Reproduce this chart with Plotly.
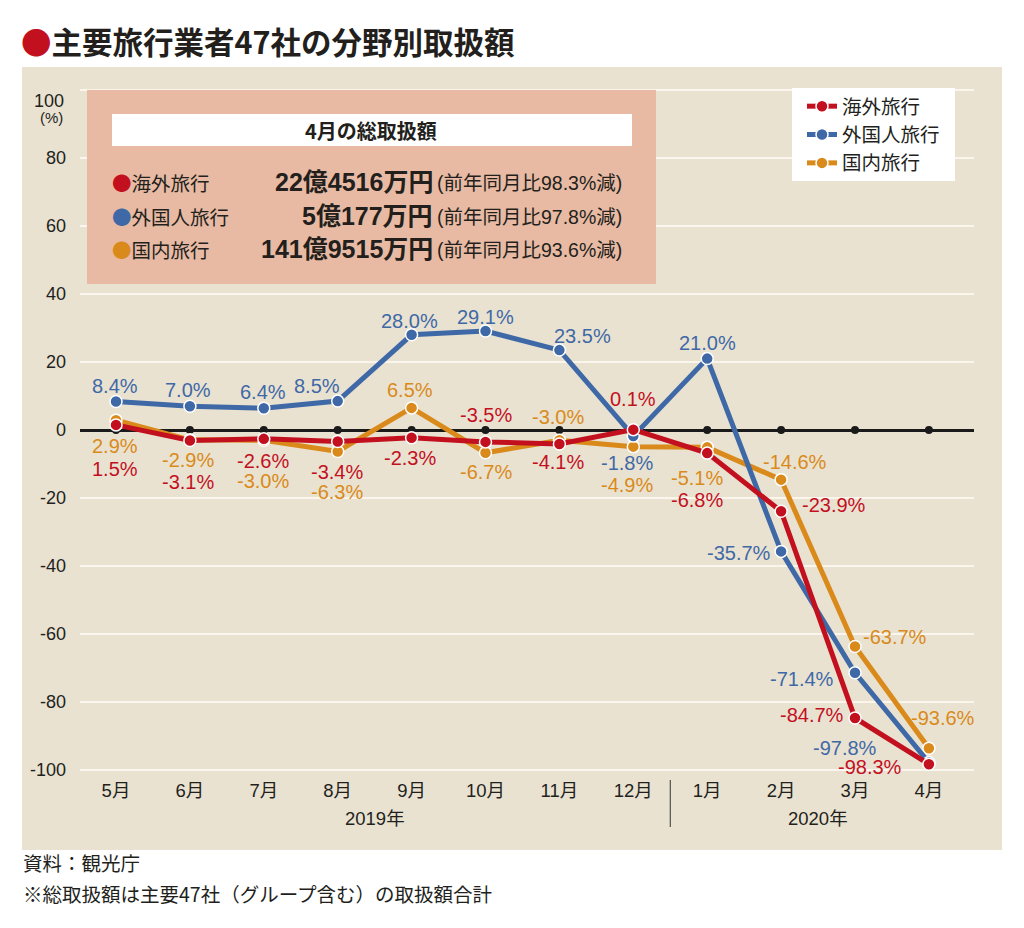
import plotly.graph_objects as go

# ---------------- data ----------------
months = ["5月", "6月", "7月", "8月", "9月", "10月", "11月", "12月", "1月", "2月", "3月", "4月"]
years = ["2019年", "2020年"]
series_names = ["海外旅行", "外国人旅行", "国内旅行"]
overseas = [1.5, -3.1, -2.6, -3.4, -2.3, -3.5, -4.1, 0.1, -6.8, -23.9, -84.7, -98.3]
inbound = [8.4, 7.0, 6.4, 8.5, 28.0, 29.1, 23.5, -1.8, 21.0, -35.7, -71.4, -97.8]
domestic = [2.9, -2.9, -3.0, -6.3, 6.5, -6.7, -3.0, -4.9, -5.1, -14.6, -63.7, -93.6]
y_ticks = [100, 80, 60, 40, 20, 0, -20, -40, -60, -80, -100]
box_title = "4月の総取扱額"
box_amounts = ["22億4516万円", "5億177万円", "141億9515万円"]
box_notes = ["(前年同月比98.3%減)", "(前年同月比97.8%減)", "(前年同月比93.6%減)"]

# ---------------- styles ----------------
RED = "#c3101f"
BLUE = "#3f69a6"
ORANGE = "#d98a1b"
BEIGE = "#e9e2d1"
SALMON = "#e8baa3"
TXT = "#231f1c"
NUM_FONT = "Liberation Sans, Noto Sans CJK JP"
JP_FONT = "Noto Sans CJK JP"

# label offsets (pixels, dx right / dy down) for each point
off_red = [(-1, 44), (-2, 41), (-1, 22), (-1, 30), (-2, 20), (0, -27), (-1, 18), (0, -31), (-10, 47), (53, -6), (-43, -3), (-59, 3)]
off_blue = [(-1, -15), (-2, -16), (-1, -16), (-21, -15), (-2, -14), (0, -14), (23, -14), (-6, 27), (0, -16), (-42, 2), (-53, 6), (-84, -15)]
off_orange = [(-1, 26), (-2, 20), (-1, 41), (-1, 41), (-2, -18), (0, 19), (-1, -23), (-6, 38), (-10, 31), (14, -18), (40, -10), (14, -30)]

# plot-area geometry (pixels)
L, R, T, B = 80, 974, 80, 775
W, H = 1024, 928
zero_px, px_per_unit = 430, 3.4
first_x, step_x = 116, 73.9


def PX(x):
    return (x - L) / (R - L)


def PY(y):
    return (B - y) / (B - T)


def note(x, y, text, size, family, color=TXT, xanchor="left"):
    return dict(x=PX(x), y=PY(y), xref="paper", yref="paper", text=text, showarrow=False,
                xanchor=xanchor, yanchor="middle", font=dict(family=family, size=size, color=color))


fig = go.Figure()

# black dots on zero line
fig.add_trace(go.Scatter(x=months, y=[0] * len(months), mode="markers",
                         marker=dict(color="#1a1a1a", size=8), showlegend=False, hoverinfo="skip"))

traces = [(series_names[2], domestic, ORANGE, 3), (series_names[1], inbound, BLUE, 2), (series_names[0], overseas, RED, 1)]
for name, vals, col, rank in traces:
    fig.add_trace(go.Scatter(
        x=months, y=vals, mode="lines+markers", name=name, legendrank=rank,
        line=dict(color=col, width=5),
        marker=dict(color=col, size=12, line=dict(color="white", width=1.5)),
    ))

# data labels
anns = []
for vals, col, offs in [(overseas, RED, off_red), (inbound, BLUE, off_blue), (domestic, ORANGE, off_orange)]:
    for m, v, (dx, dy) in zip(months, vals, offs):
        anns.append(dict(x=m, y=v, xref="x", yref="y", text=f"{v:.1f}%", showarrow=False,
                         xanchor="center", yanchor="middle",
                         xshift=dx, yshift=-dy, font=dict(family=NUM_FONT, size=20, color=col)))

# year labels
for xpos, yr in zip([3.5, 9.5], years):
    anns.append(dict(x=xpos, y=PY(818), xref="x", yref="paper", text=yr, showarrow=False,
                     xanchor="center", yanchor="middle", font=dict(family=NUM_FONT, size=18.5, color=TXT)))

# y-axis 100 label and unit
anns.append(note(66, 101, "100", 18, NUM_FONT, xanchor="right"))
anns.append(note(65, 118, "(%)", 15, NUM_FONT, xanchor="right"))

# title
anns.append(note(19, 41, f'<span style="color:{RED}">●</span><b>主要旅行業者47社の分野別取扱額</b>', 30.5, JP_FONT))

# footnotes
anns.append(note(21, 862, "資料：観光庁", 19.5, JP_FONT))
anns.append(note(21, 893, "※総取扱額は主要47社（グループ含む）の取扱額合計", 19.5, JP_FONT))

# info box text
anns.append(note(371, 130, f"<b>{box_title}</b>", 20, JP_FONT, xanchor="center"))
row_y = [182, 216, 249]
for i, (nm, amt, nt, col) in enumerate(zip(series_names, box_amounts, box_notes, [RED, BLUE, ORANGE])):
    anns.append(note(110, row_y[i], f'<span style="color:{col}">●</span>{nm}', 19.5, JP_FONT))
    anns.append(note(435, row_y[i], f"<b>{amt}</b>", 25, NUM_FONT, xanchor="right"))
    anns.append(note(435, row_y[i] + 1, nt, 19.5, NUM_FONT))

shapes = [
    # beige panel
    dict(type="rect", xref="paper", yref="paper", x0=PX(22), x1=PX(1002), y0=PY(850), y1=PY(67),
         fillcolor=BEIGE, line=dict(width=0), layer="below"),
    # info box
    dict(type="rect", xref="paper", yref="paper", x0=PX(87), x1=PX(656), y0=PY(284), y1=PY(90),
         fillcolor=SALMON, line=dict(width=0), layer="above"),
    dict(type="rect", xref="paper", yref="paper", x0=PX(112), x1=PX(632), y0=PY(146), y1=PY(114),
         fillcolor="white", line=dict(width=0), layer="above"),
    # legend background
    dict(type="rect", xref="paper", yref="paper", x0=PX(792), x1=PX(955), y0=PY(181), y1=PY(88),
         fillcolor="white", line=dict(width=0), layer="above"),
    # year divider
    dict(type="line", xref="x", yref="paper", x0=7.5, x1=7.5, y0=PY(780), y1=PY(827),
         line=dict(color="#333333", width=1)),
]

x_lo = -(first_x - L) / step_x
x_hi = 11 + (R - (first_x + 11 * step_x)) / step_x
y_hi = (zero_px - T) / px_per_unit
y_lo = -(B - zero_px) / px_per_unit

fig.update_layout(
    width=W, height=H, autosize=False,
    margin=dict(l=L, r=W - R, t=T, b=H - B, pad=0),
    paper_bgcolor="white", plot_bgcolor="rgba(0,0,0,0)",
    annotations=anns, shapes=shapes,
    showlegend=True,
    legend=dict(x=PX(802), y=PY(87), xanchor="left", yanchor="top", bgcolor="rgba(0,0,0,0)",
                font=dict(family=JP_FONT, size=19.5, color=TXT), borderwidth=0,
                tracegroupgap=0, itemwidth=30),
    xaxis=dict(type="category", range=[x_lo, x_hi], showgrid=False, zeroline=False, showline=False,
               ticks="", tickfont=dict(family=NUM_FONT, size=18.5, color=TXT), ticklabelstandoff=2,
               fixedrange=True),
    yaxis=dict(range=[y_lo, y_hi], tickvals=y_ticks,
               ticktext=["" if t == 100 else str(t) for t in y_ticks],
               showgrid=True, gridcolor="#faf6ee", gridwidth=2,
               zeroline=True, zerolinecolor="#1a1a1a", zerolinewidth=2.5,
               showline=False, ticks="", tickfont=dict(family=NUM_FONT, size=18, color=TXT),
               ticklabelstandoff=13, fixedrange=True),
    hovermode=False,
)

fig.write_html("out.html", config={"displayModeBar": False},
               post_script="document.body.style.margin='0';document.body.style.overflow='hidden';")
